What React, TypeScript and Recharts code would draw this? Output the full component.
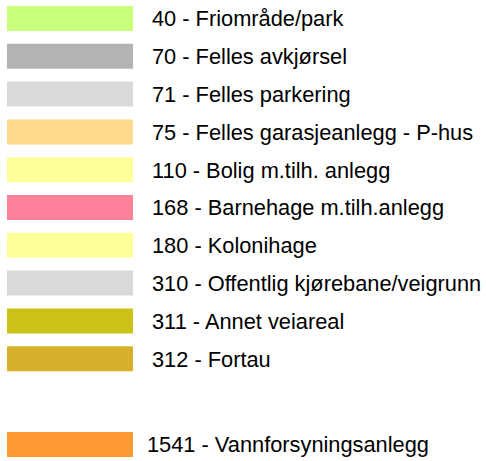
import { BarChart, Bar, Cell, XAxis, YAxis, LabelList } from "recharts";

// legend rows (upper group)
const codes = ["40", "70", "71", "75", "110", "168", "180", "310", "311", "312"];
const names = [
  "Friområde/park",
  "Felles avkjørsel",
  "Felles parkering",
  "Felles garasjeanlegg - P-hus",
  "Bolig m.tilh. anlegg",
  "Barnehage m.tilh.anlegg",
  "Kolonihage",
  "Offentlig kjørebane/veigrunn",
  "Annet veiareal",
  "Fortau",
];
const colors = [
  "#c8ff7a",
  "#b3b3b3",
  "#d9d9d9",
  "#ffd98c",
  "#ffff99",
  "#ff8099",
  "#ffff99",
  "#d9d9d9",
  "#ccc216",
  "#d6b02b",
];

// separate row at the bottom
const extraCodes = ["1541"];
const extraNames = ["Vannforsyningsanlegg"];
const extraColors = ["#ff9933"];

// every swatch has the same length
const swatch = 1;

const font = "'Liberation Sans', Arial, sans-serif";

const toRows = (c: string[], n: string[]) =>
  c.map((code, i) => ({ code, label: `${code} - ${n[i]}`, value: swatch }));

// eslint-disable-next-line @typescript-eslint/no-explicit-any
const makeLabel = (offset: number) => (props: any) => {
  const { x, y, width, height, value } = props;
  return (
    <text
      x={Number(x) + Number(width) + offset}
      y={Number(y) + Number(height) / 2}
      dy="0.36em"
      fill="#000"
      fontSize={21.8}
      fontFamily={font}
    >
      {value}
    </text>
  );
};

const Legend = ({
  rows,
  fills,
  height,
  offset,
}: {
  rows: { code: string; label: string; value: number }[];
  fills: string[];
  height: number;
  offset: number;
}) => (
  <BarChart
    width={486}
    height={height}
    data={rows}
    layout="vertical"
    margin={{ top: 0, right: 353, bottom: 0, left: 7 }}
    barSize={25}
    style={{ overflow: "visible" }}
  >
    <XAxis type="number" domain={[0, 1]} hide />
    <YAxis type="category" dataKey="code" hide />
    <Bar dataKey="value" isAnimationActive={false}>
      {rows.map((r, i) => (
        <Cell key={`cell-${r.code}`} fill={fills[i]} />
      ))}
      <LabelList dataKey="label" content={makeLabel(offset)} />
    </Bar>
  </BarChart>
);

export default function App() {
  return (
    <div style={{ position: "absolute", left: 0, top: 0, width: 486, height: 461, background: "#fff" }}>
      <Legend rows={toRows(codes, names)} fills={colors} height={378} offset={19} />
      <div style={{ marginTop: 47 }}>
        <Legend rows={toRows(extraCodes, extraNames)} fills={extraColors} height={38} offset={14} />
      </div>
    </div>
  );
}
